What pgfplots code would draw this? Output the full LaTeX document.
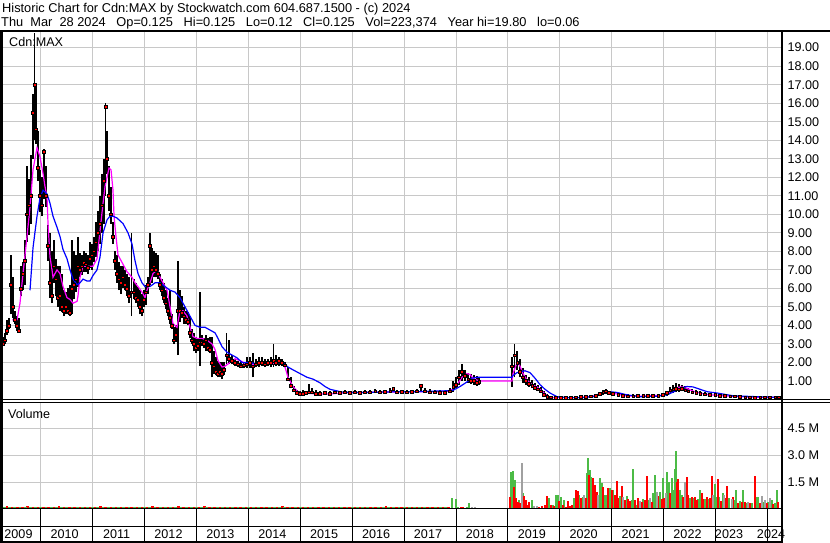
\documentclass[border=0pt]{standalone}
\usepackage{pgfplots}
\pgfplotsset{compat=1.18}
\usepackage{pgfplotstable}
\usepackage{fontspec}
\setmainfont{Liberation Sans}
\newcommand\sw{\fontsize{12.6bp}{15bp}\selectfont}
\newcommand\swt{\fontsize{12.8bp}{15bp}\selectfont}
\definecolor{gridc}{RGB}{200,200,200}
\definecolor{vgreen}{RGB}{76,187,70}
\definecolor{vgrey}{RGB}{160,160,160}
\definecolor{mag}{RGB}{255,0,255}
\definecolor{mablue}{RGB}{0,0,255}
\definecolor{pred}{RGB}{255,0,0}

\pgfplotstableread{
x lo hi c
2009.233 3.0 3.5 3.1
2009.272 2.9 3.4 3.0
2009.310 3.0 3.6 3.2
2009.349 3.5 4.3 3.7
2009.387 3.8 4.4 4.0
2009.426 4.6 7.8 6.2
2009.464 4.4 6.6 5.0
2009.503 4.1 4.8 4.3
2009.542 3.7 4.5 4.0
2009.580 3.6 4.4 3.7
2009.619 5.6 7.2 6.0
2009.657 5.9 7.4 6.8
2009.696 6.2 8.6 7.5
2009.734 8.5 12.6 10.0
2009.773 8.9 11.9 10.5
2009.811 9.5 13.2 11.0
2009.850 13.0 16.5 15.5
2009.879 14.0 19.8 17.0
2009.908 13.8 17.1 14.6
2009.946 11.8 14.5 12.5
2009.985 10.1 12.4 11.0
2010.023 9.9 12.0 10.5
2010.062 10.8 13.5 13.4
2010.100 10.4 12.6 11.0
2010.139 7.5 9.4 8.3
2010.177 5.5 9.0 6.3
2010.216 5.2 8.0 5.6
2010.254 6.3 8.6 7.2
2010.293 5.6 7.6 6.5
2010.332 5.0 7.2 5.5
2010.370 4.8 7.2 5.6
2010.409 4.7 6.8 5.0
2010.447 4.5 5.9 4.8
2010.486 4.6 5.8 5.0
2010.524 4.6 6.0 4.8
2010.563 4.5 6.2 4.7
2010.601 4.6 8.6 6.0
2010.640 5.4 8.0 6.2
2010.678 5.8 7.8 6.5
2010.717 6.1 8.8 7.2
2010.755 6.6 7.9 7.0
2010.794 6.7 7.8 7.2
2010.832 6.9 8.0 7.4
2010.871 6.9 7.9 7.3
2010.910 6.8 7.8 7.1
2010.948 7.1 8.5 7.6
2010.987 7.0 8.4 7.8
2011.025 7.4 8.8 8.0
2011.064 7.7 9.6 8.5
2011.102 8.0 10.2 9.0
2011.141 8.4 11.0 9.5
2011.179 9.0 12.2 10.5
2011.218 9.5 13.0 11.8
2011.247 11.0 16.0 15.8
2011.276 12.2 14.5 13.0
2011.314 10.2 12.6 11.0
2011.353 9.5 11.5 10.0
2011.391 8.4 9.6 8.8
2011.430 7.0 8.0 7.5
2011.468 6.3 7.8 6.8
2011.507 5.9 7.4 6.5
2011.545 5.7 7.2 6.3
2011.584 6.0 7.2 6.6
2011.622 5.9 7.0 6.2
2011.661 5.6 6.8 6.0
2011.700 5.2 6.6 5.6
2011.748 4.5 9.0 5.8
2011.796 5.4 6.5 5.8
2011.834 5.2 6.3 5.5
2011.873 5.0 6.1 5.4
2011.912 4.6 5.9 5.0
2011.950 4.5 5.7 4.8
2011.989 5.0 5.9 5.4
2012.027 5.1 6.2 5.8
2012.066 5.7 6.6 6.2
2012.104 6.2 9.0 8.3
2012.143 6.3 8.2 7.0
2012.181 6.6 8.0 7.2
2012.220 6.6 7.9 7.0
2012.258 6.5 7.8 6.8
2012.297 5.9 6.8 6.2
2012.335 5.6 6.5 5.9
2012.374 5.2 6.3 5.5
2012.412 4.9 5.9 5.2
2012.451 4.5 5.5 4.8
2012.490 4.1 5.9 4.4
2012.528 3.8 4.6 4.0
2012.567 3.0 3.9 3.2
2012.605 3.1 4.0 3.5
2012.644 2.4 7.5 4.8
2012.682 4.2 5.9 4.8
2012.721 4.4 5.6 4.7
2012.759 4.1 5.0 4.5
2012.798 4.1 4.8 4.3
2012.836 4.0 4.7 4.2
2012.875 3.3 4.5 3.6
2012.913 3.0 3.8 3.2
2012.952 2.6 3.6 3.0
2012.991 2.5 3.4 2.8
2013.029 2.6 3.3 2.9
2013.068 1.8 5.8 3.1
2013.106 2.9 3.5 3.1
2013.145 2.8 3.3 3.0
2013.183 2.6 3.5 3.2
2013.222 2.6 3.3 2.8
2013.260 2.5 3.4 2.7
2013.299 1.2 3.4 2.0
2013.337 1.4 2.6 1.8
2013.376 1.3 2.3 1.5
2013.414 1.2 2.1 1.4
2013.453 1.2 2.0 1.5
2013.492 1.1 2.0 1.4
2013.530 1.3 2.0 1.6
2013.578 1.9 3.6 2.4
2013.626 1.9 3.2 2.2
2013.684 1.9 2.4 2.1
2013.742 1.8 2.2 2.0
2013.800 1.75 2.1 1.9
2013.858 1.7 2.0 1.8
2013.915 1.7 2.0 1.85
2013.973 1.7 2.3 1.9
2014.031 1.7 2.3 2.0
2014.089 1.2 2.5 1.8
2014.147 1.75 2.2 1.9
2014.204 1.75 2.3 2.0
2014.262 1.8 2.3 2.0
2014.320 1.75 2.2 1.9
2014.378 1.8 2.2 2.0
2014.436 1.75 2.3 2.0
2014.484 1.75 3.0 2.1
2014.532 1.8 2.4 2.0
2014.590 1.8 2.3 2.1
2014.648 1.8 2.2 2.0
2014.705 1.75 2.0 1.85
2014.763 1.0 1.75 1.1
2014.821 0.6 1.2 0.75
2014.879 0.4 0.75 0.5
2014.937 0.3 0.5 0.35
2014.994 0.25 0.45 0.3
2015.052 0.25 0.5 0.3
2015.110 0.25 0.45 0.35
2015.168 0.3 0.85 0.4
2015.226 0.3 0.6 0.4
2015.303 0.25 0.5 0.3
2015.380 0.2 0.45 0.3
2015.476 0.25 0.45 0.35
2015.572 0.25 0.45 0.3
2015.669 0.3 0.5 0.4
2015.765 0.3 0.45 0.35
2015.861 0.3 0.5 0.4
2015.958 0.3 0.45 0.38
2016.054 0.3 0.5 0.4
2016.150 0.3 0.45 0.35
2016.247 0.3 0.5 0.4
2016.343 0.3 0.5 0.4
2016.440 0.35 0.55 0.45
2016.536 0.35 0.5 0.4
2016.632 0.35 0.5 0.42
2016.729 0.4 0.6 0.45
2016.787 0.4 0.65 0.6
2016.863 0.35 0.5 0.4
2016.960 0.35 0.5 0.42
2017.056 0.35 0.5 0.4
2017.152 0.35 0.5 0.42
2017.249 0.35 0.55 0.45
2017.326 0.4 0.8 0.75
2017.403 0.4 0.6 0.45
2017.499 0.35 0.55 0.4
2017.596 0.35 0.5 0.4
2017.692 0.3 0.5 0.35
2017.788 0.3 0.45 0.35
2017.885 0.35 0.6 0.45
2017.943 0.4 1.0 0.7
2018.000 0.6 1.2 0.8
2018.058 0.8 1.6 1.2
2018.116 1.0 1.9 1.5
2018.174 1.0 1.6 1.3
2018.232 0.9 1.45 1.1
2018.289 0.85 1.4 1.0
2018.347 0.8 1.3 1.0
2018.405 0.75 1.25 0.9
2018.444 0.8 1.2 0.95
2019.079 0.7 2.3 1.8
2019.127 1.2 3.0 2.4
2019.176 1.6 2.6 2.0
2019.233 1.2 2.2 1.5
2019.291 0.9 1.7 1.2
2019.349 0.8 1.3 1.0
2019.407 0.7 1.2 0.85
2019.465 0.6 1.05 0.75
2019.522 0.55 0.9 0.65
2019.580 0.45 0.8 0.55
2019.638 0.35 0.7 0.45
2019.696 0.15 0.45 0.25
2019.754 0.1 0.3 0.15
2019.831 0.08 0.2 0.12
2019.927 0.06 0.18 0.1
2020.023 0.06 0.15 0.1
2020.120 0.06 0.15 0.1
2020.216 0.07 0.16 0.1
2020.312 0.08 0.18 0.12
2020.409 0.1 0.2 0.15
2020.505 0.1 0.22 0.15
2020.601 0.12 0.25 0.18
2020.698 0.15 0.3 0.2
2020.775 0.2 0.4 0.3
2020.833 0.25 0.5 0.4
2020.890 0.3 0.55 0.45
2020.948 0.25 0.45 0.35
2021.025 0.2 0.4 0.3
2021.122 0.15 0.35 0.25
2021.218 0.15 0.3 0.2
2021.314 0.12 0.3 0.18
2021.411 0.12 0.28 0.18
2021.507 0.12 0.28 0.2
2021.604 0.12 0.3 0.2
2021.700 0.15 0.3 0.22
2021.796 0.15 0.3 0.2
2021.893 0.15 0.3 0.22
2021.989 0.15 0.32 0.25
2022.066 0.2 0.45 0.35
2022.124 0.3 0.65 0.5
2022.182 0.35 0.8 0.55
2022.239 0.4 0.9 0.6
2022.297 0.4 0.85 0.55
2022.355 0.45 0.8 0.6
2022.413 0.4 0.75 0.5
2022.471 0.35 0.6 0.45
2022.548 0.3 0.55 0.4
2022.625 0.3 0.5 0.35
2022.702 0.25 0.45 0.3
2022.798 0.2 0.4 0.28
2022.894 0.18 0.35 0.25
2022.991 0.18 0.35 0.25
2023.087 0.15 0.3 0.2
2023.183 0.15 0.28 0.2
2023.280 0.12 0.25 0.18
2023.376 0.12 0.25 0.18
2023.472 0.1 0.22 0.15
2023.569 0.08 0.2 0.12
2023.665 0.08 0.18 0.12
2023.761 0.06 0.16 0.1
2023.858 0.07 0.16 0.12
2023.954 0.08 0.15 0.12
2024.050 0.08 0.15 0.12
2024.147 0.08 0.15 0.12
2024.224 0.12 0.125 0.125
}\pricetab

\begin{document}
\begin{tikzpicture}[x=1bp,y=1bp]
\useasboundingbox (0,0) rectangle (830,543);

% ---------- price panel ----------
\begin{axis}[
  at={(1bp,143.5bp)}, anchor=south west, scale only axis,
  width=780bp, height=368.5bp,
  xmin=2009.233, xmax=2024.262, ymin=0, ymax=19.9,
  axis line style={draw=none},
  xtick={2010,2011,...,2024}, xticklabels={},
  ytick={1,2,...,19},
  yticklabels={1.00,2.00,3.00,4.00,5.00,6.00,7.00,8.00,9.00,10.00,11.00,12.00,13.00,14.00,15.00,16.00,17.00,18.00,19.00},
  yticklabel pos=right,
  yticklabel style={anchor=west, inner sep=0pt, xshift=6.5bp, font=\sw},
  major tick length=0pt,
  grid=major, major grid style={draw=gridc, line width=1bp},
]
\addplot[draw=none, mark=none, forget plot,
  error bars/.cd, y dir=plus, y explicit, error mark=none,
  error bar style={draw=black, line width=1.9bp}]
  table[x=x, y=lo, y error plus expr=\thisrow{hi}-\thisrow{lo}] {\pricetab};
\addplot[only marks, mark=square*, mark size=1.35bp, mark options={draw=none, fill=pred}]
  table[x=x, y=c] {\pricetab};
\addplot[mag, line width=1.2bp] coordinates {
(2009.445,4.3) (2009.542,4.3) (2009.599,5.2) (2009.657,6.8) (2009.734,8.8) (2009.792,10.4) (2009.850,12.4) (2009.927,13.6) (2009.985,13.1) (2010.043,12.2) (2010.081,11.5) (2010.120,10.9) (2010.139,9.5) (2010.177,7.7) (2010.216,7.0) (2010.235,6.6) (2010.312,7.0) (2010.370,6.8) (2010.428,6.1) (2010.505,5.5) (2010.563,5.4) (2010.621,5.2) (2010.698,5.3) (2010.717,5.6) (2010.755,6.6) (2010.813,7.2) (2010.948,7.2) (2011.006,7.2) (2011.083,7.6) (2011.141,9.1) (2011.199,10.6) (2011.237,11.5) (2011.276,12.0) (2011.314,12.5) (2011.353,12.4) (2011.391,11.3) (2011.411,9.9) (2011.449,8.8) (2011.488,7.8) (2011.565,7.4) (2011.661,6.9) (2011.757,6.6) (2011.815,6.3) (2011.873,6.1) (2011.950,5.8) (2012.008,5.5) (2012.046,5.9) (2012.104,6.3) (2012.162,6.8) (2012.239,7.0) (2012.297,6.6) (2012.355,6.3) (2012.432,5.9) (2012.490,5.0) (2012.547,4.1) (2012.624,3.9) (2012.682,4.8) (2012.740,4.8) (2012.817,4.5) (2012.875,3.9) (2012.933,3.4) (2013.010,3.3) (2013.106,3.3) (2013.202,3.2) (2013.299,3.0) (2013.357,2.7) (2013.414,2.1) (2013.492,1.75) (2013.549,1.8) (2013.646,2.0) (2013.742,2.2) (2013.838,2.1) (2013.973,1.9) (2014.127,1.9) (2014.281,1.9) (2014.416,1.9) (2014.551,2.0) (2014.648,2.0) (2014.705,1.75) (2014.763,1.2) (2014.860,0.7) (2014.956,0.4) (2015.052,0.35) (2015.322,0.3) (2015.572,0.3) (2015.958,0.37) (2016.536,0.4) (2017.114,0.42) (2017.692,0.42) (2017.885,0.45) (2017.943,0.6) (2018.020,0.8) (2018.116,1.2) (2018.212,1.4) (2018.270,1.35) (2018.328,1.15) (2018.405,1.05) (2018.463,1.0) (2019.079,1.0) (2019.098,1.4) (2019.176,2.0) (2019.233,1.8) (2019.291,1.4) (2019.368,1.05) (2019.465,0.8) (2019.561,0.68) (2019.677,0.4) (2019.773,0.15) (2019.869,0.1) (2020.389,0.1) (2020.640,0.18) (2020.833,0.38) (2020.929,0.42) (2021.064,0.32) (2021.257,0.2) (2021.546,0.18) (2021.931,0.22) (2022.066,0.3) (2022.162,0.5) (2022.258,0.65) (2022.355,0.68) (2022.451,0.6) (2022.567,0.45) (2022.702,0.35) (2022.894,0.25) (2023.183,0.2) (2023.472,0.15) (2023.858,0.12) (2024.243,0.12)
};
\addplot[mablue, line width=1.2bp] coordinates {
(2009.792,5.9) (2009.850,8.2) (2009.927,9.9) (2009.985,10.9) (2010.043,11.3) (2010.120,11.1) (2010.177,10.6) (2010.235,9.9) (2010.312,9.3) (2010.370,8.8) (2010.428,8.1) (2010.505,7.6) (2010.563,7.0) (2010.621,6.5) (2010.698,6.2) (2010.755,6.3) (2010.813,6.5) (2010.890,6.4) (2010.948,6.4) (2011.006,6.7) (2011.083,7.0) (2011.141,7.7) (2011.199,9.0) (2011.276,9.7) (2011.333,9.9) (2011.391,9.9) (2011.468,9.8) (2011.584,9.5) (2011.680,9.0) (2011.757,8.4) (2011.815,7.5) (2011.873,6.8) (2011.950,6.3) (2012.008,6.1) (2012.104,6.1) (2012.201,6.3) (2012.297,6.3) (2012.393,6.1) (2012.490,5.9) (2012.586,5.8) (2012.682,5.5) (2012.779,5.0) (2012.875,4.5) (2012.971,4.0) (2013.068,3.9) (2013.164,3.9) (2013.260,3.75) (2013.357,3.6) (2013.414,3.3) (2013.492,2.85) (2013.588,2.55) (2013.684,2.4) (2013.781,2.25) (2013.877,2.0) (2014.031,2.0) (2014.185,1.9) (2014.359,1.9) (2014.474,2.0) (2014.609,2.0) (2014.705,1.9) (2014.763,1.75) (2014.860,1.6) (2014.994,1.4) (2015.129,1.2) (2015.245,1.1) (2015.380,0.9) (2015.476,0.7) (2015.572,0.55) (2015.804,0.4) (2015.958,0.38) (2016.285,0.38) (2016.594,0.4) (2016.921,0.42) (2017.249,0.42) (2017.557,0.45) (2017.827,0.47) (2017.943,0.5) (2018.077,0.7) (2018.212,0.95) (2018.309,1.15) (2018.405,1.2) (2019.079,1.2) (2019.098,1.3) (2019.176,1.45) (2019.253,1.5) (2019.330,1.55) (2019.426,1.45) (2019.522,1.15) (2019.619,0.8) (2019.715,0.55) (2019.811,0.35) (2019.946,0.15) (2020.139,0.1) (2020.389,0.1) (2020.640,0.15) (2020.833,0.35) (2020.967,0.42) (2021.102,0.38) (2021.295,0.25) (2021.546,0.15) (2021.873,0.18) (2022.066,0.25) (2022.182,0.4) (2022.316,0.6) (2022.451,0.7) (2022.567,0.68) (2022.702,0.55) (2022.837,0.42) (2023.029,0.35) (2023.338,0.2) (2023.800,0.15) (2024.108,0.12) (2024.243,0.1)
};
\end{axis}

% ---------- volume panel ----------
\begin{axis}[
  at={(1bp,34bp)}, anchor=south west, scale only axis,
  width=780bp, height=107bp,
  xmin=2009.233, xmax=2024.262, ymin=0, ymax=5.97,
  axis line style={draw=none},
  xtick={2010,2011,...,2024}, xticklabels={},
  ytick={1.5,3,4.5}, yticklabels={1.5 M,3.0 M,4.5 M},
  yticklabel pos=right,
  yticklabel style={anchor=west, inner sep=0pt, xshift=6.5bp, font=\sw},
  major tick length=0pt,
  grid=major, major grid style={draw=gridc, line width=1bp},
]
\addplot[ycomb, draw=pred, line width=2.8bp] coordinates {
(2009.25,0.12) (2009.35,0.14) (2009.45,0.11) (2009.55,0.13) (2009.65,0.12) (2009.75,0.14) (2009.85,0.13) (2009.95,0.12) (2010.05,0.11) (2010.15,0.13) (2010.25,0.12) (2010.35,0.14) (2010.45,0.11) (2010.55,0.12) (2010.65,0.13) (2010.75,0.12) (2010.85,0.11) (2010.95,0.12) (2011.05,0.13) (2011.15,0.14) (2011.25,0.12) (2011.35,0.11) (2011.45,0.12) (2011.55,0.13) (2011.65,0.12) (2011.75,0.11) (2011.85,0.12) (2011.95,0.13) (2012.05,0.12) (2012.15,0.14) (2012.25,0.12) (2012.35,0.11) (2012.45,0.13) (2012.55,0.12) (2012.65,0.14) (2012.75,0.12) (2012.85,0.11) (2012.95,0.13) (2013.05,0.12) (2013.15,0.14) (2013.25,0.12) (2013.35,0.13) (2013.45,0.11) (2013.55,0.12) (2013.65,0.13) (2013.75,0.12) (2013.85,0.11) (2013.95,0.12) (2014.05,0.13) (2014.15,0.12) (2014.25,0.11) (2014.35,0.12) (2014.45,0.13) (2014.55,0.12) (2014.65,0.14) (2014.75,0.12) (2014.85,0.13) (2014.95,0.12) (2015.05,0.11) (2015.15,0.12) (2015.25,0.13) (2015.35,0.12) (2015.45,0.11) (2015.55,0.12) (2015.65,0.13) (2015.75,0.12) (2015.85,0.11) (2015.95,0.12) (2016.05,0.13) (2016.15,0.12) (2016.25,0.11) (2016.35,0.12) (2016.45,0.13) (2016.55,0.12) (2016.65,0.14) (2016.75,0.12) (2016.85,0.11) (2016.95,0.12) (2017.05,0.13) (2017.15,0.12) (2017.25,0.11) (2017.35,0.12) (2017.45,0.13) (2017.55,0.12) (2017.65,0.11) (2017.75,0.12) (2017.85,0.13)
};
\addplot[ycomb, draw=vgreen, line width=2.8bp] coordinates {
(2009.30,0.10) (2009.40,0.09) (2009.50,0.11) (2009.60,0.10) (2009.70,0.09) (2009.80,0.10) (2009.90,0.11) (2010.00,0.10) (2010.10,0.09) (2010.20,0.10) (2010.30,0.11) (2010.40,0.10) (2010.50,0.09) (2010.60,0.10) (2010.70,0.11) (2010.80,0.10) (2010.90,0.09) (2011.00,0.11) (2011.10,0.12) (2011.20,0.11) (2011.30,0.10) (2011.40,0.11) (2011.50,0.12) (2011.60,0.10) (2011.70,0.11) (2011.80,0.10) (2011.90,0.09) (2012.00,0.10) (2012.10,0.11) (2012.20,0.10) (2012.30,0.09) (2012.40,0.10) (2012.50,0.11) (2012.60,0.10) (2012.70,0.09) (2012.80,0.10) (2012.90,0.11) (2013.00,0.10) (2013.10,0.09) (2013.20,0.10) (2013.30,0.11) (2013.40,0.10) (2013.50,0.09) (2013.60,0.10) (2013.70,0.11) (2013.80,0.10) (2013.90,0.09) (2014.00,0.10) (2014.10,0.11) (2014.20,0.10) (2014.30,0.09) (2014.40,0.10) (2014.50,0.11) (2014.60,0.10) (2014.70,0.09) (2014.80,0.11) (2014.90,0.12) (2015.00,0.11) (2015.10,0.12) (2015.20,0.11) (2015.30,0.12) (2015.40,0.13) (2015.50,0.11) (2015.60,0.12) (2015.70,0.11) (2015.80,0.10) (2015.90,0.11) (2016.00,0.10) (2016.10,0.09) (2016.20,0.10) (2016.30,0.11) (2016.40,0.10) (2016.50,0.09) (2016.60,0.10) (2016.70,0.11) (2016.80,0.10) (2016.90,0.09) (2017.00,0.10) (2017.10,0.11) (2017.20,0.10) (2017.30,0.09) (2017.40,0.10) (2017.50,0.11) (2017.60,0.10) (2017.70,0.09) (2017.80,0.10)
};
\addplot[ycomb, draw=vgreen, line width=1.8bp] coordinates {
(2017.929,0.59) (2017.995,0.54) (2018.045,0.13) (2018.207,0.13) (2018.257,0.32) (2018.399,0.07) (2019.066,2.08) (2019.093,2.12) (2019.143,1.62) (2019.214,0.5) (2019.292,0.87) (2019.459,0.5) (2019.787,0.59) (2019.864,0.22) (2019.927,0.78) (2019.960,0.78) (2020.024,0.65) (2020.087,0.5) (2020.280,0.59) (2020.376,0.78) (2020.442,0.69) (2020.519,2.03) (2020.538,2.83) (2020.583,2.17) (2020.608,1.8) (2020.660,1.25) (2020.775,1.71) (2020.808,1.43) (2020.872,0.78) (2020.904,0.78) (2020.968,1.15) (2021.031,1.06) (2021.161,0.72) (2021.290,0.72) (2021.386,0.5) (2021.417,2.21) (2021.482,0.22) (2021.609,0.54) (2021.706,0.5) (2021.802,0.87) (2021.835,1.9) (2021.931,0.97) (2021.983,1.71) (2022.072,2.08) (2022.099,1.52) (2022.157,1.71) (2022.188,1.06) (2022.220,2.21) (2022.240,3.23) (2022.317,1.06) (2022.349,0.78) (2022.509,0.59) (2022.573,0.59) (2022.669,0.54) (2022.702,1.06) (2022.798,0.54) (2022.862,0.54) (2022.991,1.39) (2023.024,0.69) (2023.074,0.69) (2023.139,0.87) (2023.266,0.59) (2023.376,0.5) (2023.396,1.06) (2023.473,0.46) (2023.536,1.06) (2023.602,0.35) (2023.698,0.32) (2023.794,0.65) (2023.825,0.65) (2023.922,0.41) (2024.018,0.41) (2024.083,0.5) (2024.147,0.32) (2024.180,1.06)
};
\addplot[ycomb, draw=pred, line width=1.8bp] coordinates {
(2018.091,0.09) (2018.141,0.13) (2019.041,0.65) (2019.118,1.25) (2019.162,0.6) (2019.189,0.41) (2019.240,0.32) (2019.317,0.72) (2019.344,0.5) (2019.374,0.22) (2019.413,0.41) (2019.600,0.13) (2019.652,0.17) (2019.715,0.22) (2019.760,0.72) (2019.825,0.22) (2019.889,0.17) (2019.991,0.46) (2020.057,0.22) (2020.120,0.13) (2020.153,0.46) (2020.197,0.17) (2020.230,0.22) (2020.313,1.06) (2020.346,1.0) (2020.409,0.59) (2020.500,0.59) (2020.563,1.9) (2020.635,1.71) (2020.679,1.34) (2020.712,0.97) (2020.839,1.25) (2020.935,1.15) (2021.001,1.06) (2021.064,0.78) (2021.097,1.56) (2021.128,0.59) (2021.193,1.28) (2021.257,0.5) (2021.321,0.54) (2021.353,0.46) (2021.450,0.5) (2021.513,0.59) (2021.579,0.41) (2021.642,0.5) (2021.675,1.84) (2021.771,0.41) (2021.898,0.72) (2021.964,0.54) (2022.014,0.59) (2022.124,0.87) (2022.265,1.52) (2022.284,1.65) (2022.380,0.69) (2022.446,1.8) (2022.477,0.78) (2022.542,0.65) (2022.606,0.69) (2022.638,0.5) (2022.735,0.87) (2022.766,0.54) (2022.831,0.69) (2022.895,0.59) (2022.928,1.84) (2023.043,1.65) (2023.107,0.46) (2023.197,0.59) (2023.228,1.28) (2023.344,0.65) (2023.440,0.35) (2023.506,0.41) (2023.569,0.41) (2023.665,0.35) (2023.762,1.84) (2023.858,0.35) (2023.987,0.35) (2024.114,0.28) (2024.211,0.41)
};
\addplot[ycomb, draw=vgrey, line width=1.8bp] coordinates {
(2018.303,0.13) (2018.367,0.09) (2019.267,2.58) (2019.504,0.17) (2019.556,0.17) (2020.473,0.78) (2020.742,0.78) (2021.224,0.65) (2021.546,0.46) (2021.739,0.59) (2021.868,0.97) (2022.047,0.87) (2022.413,1.52) (2022.958,0.78) (2023.164,0.78) (2023.313,0.54) (2023.633,0.41) (2023.891,0.72) (2023.954,0.5) (2024.051,0.59)
};
\end{axis}

% ---------- year strip: separators and labels ----------
\foreach \xs in {40.8,92.7,144.6,196.5,248.4,300.3,352.2,404.1,456.0,507.9,559.8,611.7,663.6,715.5,767.4}{
  \draw[line width=1bp] (\xs,34) -- (\xs,1);
}
\node[anchor=base, font=\sw] at (18.5,4.5) {2009};
\node[anchor=base, font=\sw] at (64.7,4.5) {2010};
\node[anchor=base, font=\sw] at (116.6,4.5) {2011};
\node[anchor=base, font=\sw] at (168.5,4.5) {2012};
\node[anchor=base, font=\sw] at (220.4,4.5) {2013};
\node[anchor=base, font=\sw] at (272.3,4.5) {2014};
\node[anchor=base, font=\sw] at (324.2,4.5) {2015};
\node[anchor=base, font=\sw] at (376.1,4.5) {2016};
\node[anchor=base, font=\sw] at (428.0,4.5) {2017};
\node[anchor=base, font=\sw] at (479.9,4.5) {2018};
\node[anchor=base, font=\sw] at (531.8,4.5) {2019};
\node[anchor=base, font=\sw] at (583.7,4.5) {2020};
\node[anchor=base, font=\sw] at (635.6,4.5) {2021};
\node[anchor=base, font=\sw] at (687.5,4.5) {2022};
\node[anchor=base, font=\sw] at (729.0,4.5) {2023};
\node[anchor=base, font=\sw] at (771.0,4.5) {2024};

% ---------- frame lines ----------
\draw[line width=2bp] (0,512) -- (830,512);
\draw[line width=1bp] (0,143) -- (830,143);
\draw[line width=1bp] (0,140.5) -- (830,140.5);
\draw[line width=1bp] (0,34) -- (782,34);
\draw[line width=1bp] (0,16) -- (782,16);
\draw[line width=1.5bp] (0,1) -- (782,1);
\draw[line width=2.5bp] (1.25,0) -- (1.25,512);
\draw[line width=2bp] (781.5,0) -- (781.5,512);

% ---------- texts ----------
\node[anchor=base west, inner sep=0pt, font=\swt] at (2,530.5) {Historic Chart for Cdn:MAX by Stockwatch.com 604.687.1500 - (c) 2024};
\node[anchor=base west, inner sep=0pt, font=\swt] at (1,516.5) {Thu\ \ Mar\ \ 28 2024\ \ \ Op=0.125\ \ \ Hi=0.125\ \ \ Lo=0.12\ \ \ Cl=0.125\ \ \ Vol=223,374\ \ \ Year hi=19.80\ \ \ lo=0.06};
\node[anchor=base west, inner sep=0pt, font=\sw] at (9,496.5) {Cdn:MAX};
\node[anchor=base west, inner sep=0pt, font=\sw] at (8,124.5) {Volume};
\end{tikzpicture}
\end{document}
